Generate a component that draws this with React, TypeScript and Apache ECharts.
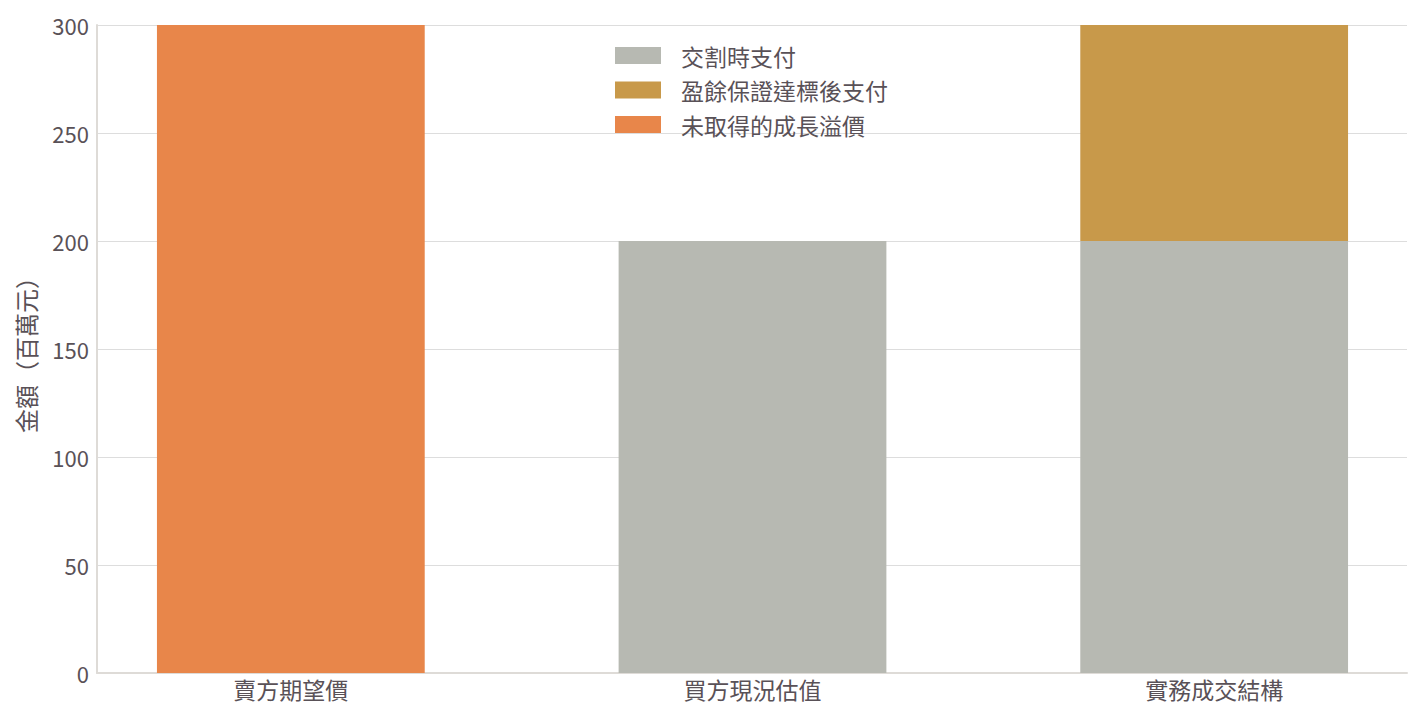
import React, { useEffect, useRef } from 'react';
import * as echarts from 'echarts';

const categories = ['賣方期望價', '買方現況估值', '實務成交結構'];
const paidAtClosing = [0, 200, 200];
const earnoutPaid = [0, 0, 100];
const unrealizedPremium = [300, 0, 0];
const yTicks = { min: 0, max: 300, interval: 50 };

const FONT = '"Noto Sans CJK TC", "Noto Sans", sans-serif';
const TEXT = '#595157';
const AXIS = '#dedbd7';

const App: React.FC = () => {
  const chartRef = useRef<HTMLDivElement>(null);

  useEffect(() => {
    document.body.style.margin = '0';
    if (!chartRef.current) return;
    const chart = echarts.init(chartRef.current, null, { renderer: 'svg' });

    // grid 0: visible frame (axes, split lines); grid 1: wider band layout for the bars
    const option = {
      animation: false,
      textStyle: { fontFamily: FONT },
      grid: [
        { left: 97, right: 16, top: 25, bottom: 47, outerBoundsMode: 'none' },
        { left: 60, width: 1385, top: 25, bottom: 47, outerBoundsMode: 'none' },
      ],
      legend: {
        orient: 'vertical',
        left: 615,
        top: 44,
        padding: 0,
        icon: 'rect',
        itemWidth: 46,
        itemHeight: 17,
        itemGap: 11.5,
        textStyle: { fontSize: 23, color: TEXT, fontFamily: FONT, padding: [0, 0, 0, 15] },
        data: ['交割時支付', '盈餘保證達標後支付', '未取得的成長溢價'],
      },
      xAxis: [
        {
          type: 'value',
          gridIndex: 0,
          min: 0,
          max: 1,
          axisLine: { show: true, onZero: false, lineStyle: { color: AXIS, width: 2 } },
          axisTick: { show: false },
          axisLabel: { show: false },
          splitLine: { show: false },
        },
        {
          type: 'category',
          gridIndex: 1,
          data: categories,
          axisLine: { show: false },
          axisTick: { show: false },
          axisLabel: { fontSize: 23, color: TEXT, margin: 4, fontFamily: FONT },
        },
      ],
      yAxis: [
        {
          type: 'value',
          gridIndex: 0,
          min: yTicks.min,
          max: yTicks.max,
          interval: yTicks.interval,
          name: '金額（百萬元）',
          nameLocation: 'middle',
          nameGap: 60,
          nameTextStyle: { fontSize: 24, color: TEXT, fontFamily: FONT },
          axisLine: { show: true, lineStyle: { color: AXIS, width: 2 } },
          axisTick: { show: false },
          axisLabel: { fontSize: 22, color: TEXT, margin: 8, fontFamily: FONT },
          splitLine: { lineStyle: { color: '#dddddd', width: 1 } },
        },
        {
          type: 'value',
          gridIndex: 1,
          min: yTicks.min,
          max: yTicks.max,
          interval: yTicks.interval,
          show: false,
        },
      ],
      series: [
        {
          name: '交割時支付',
          type: 'bar',
          stack: 'total',
          xAxisIndex: 1,
          yAxisIndex: 1,
          barWidth: '58%',
          itemStyle: { color: '#b7b9b2' },
          data: paidAtClosing,
        },
        {
          name: '盈餘保證達標後支付',
          type: 'bar',
          stack: 'total',
          xAxisIndex: 1,
          yAxisIndex: 1,
          itemStyle: { color: '#c8994a' },
          data: earnoutPaid,
        },
        {
          name: '未取得的成長溢價',
          type: 'bar',
          stack: 'total',
          xAxisIndex: 1,
          yAxisIndex: 1,
          itemStyle: { color: '#e8864a' },
          data: unrealizedPremium,
        },
      ],
    };

    chart.setOption(option);
    const handleResize = () => chart.resize();
    window.addEventListener('resize', handleResize);
    return () => {
      window.removeEventListener('resize', handleResize);
      chart.dispose();
    };
  }, []);

  return <div ref={chartRef} style={{ width: 1423, height: 720 }} />;
};

export default App;
